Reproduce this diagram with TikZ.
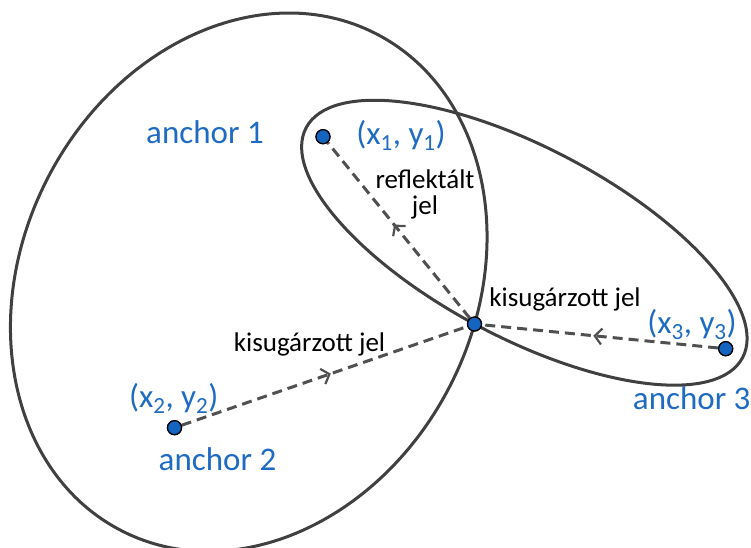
\documentclass[tikz,border=0pt]{standalone}
\usepackage{fontspec}
\setmainfont{Carlito}
\usetikzlibrary{arrows.meta,decorations.markings}
\definecolor{labelblue}{RGB}{31,107,196}
\definecolor{dotblue}{RGB}{21,101,192}
\definecolor{curvegray}{RGB}{64,64,64}
\definecolor{signalgray}{RGB}{80,80,80}
\tikzset{
  locus/.style={draw=curvegray, line width=3pt},
  station/.style={circle, draw=black, fill=dotblue, line width=1.2pt,
    minimum size=14pt, inner sep=0pt},
  signal/.style={draw=signalgray, line width=3pt, dash pattern=on 10pt off 6pt,
    postaction={decorate},
    decoration={markings, mark=at position #1 with
      {\arrow{Straight Barb[length=7pt,width=16pt,line width=2.2pt]}}}},
  bluetext/.style={text=labelblue, font=\fontsize{33}{38}\selectfont,
    inner sep=0pt, anchor=base},
  blacktext/.style={text=black, font=\fontsize{27}{26}\selectfont,
    inner sep=0pt, anchor=base},
}
\begin{document}
\begin{tikzpicture}[x=1pt, y=-1pt]
  \useasboundingbox (0,0) rectangle (751,547);

  % confocal loci: anchor 1 & 2, anchor 1 & 3
  \draw[locus, rotate around={62.96:(248.75,282.2)}]
    (248.75,282.2) ellipse [x radius=279.2pt, y radius=226.4pt];
  \draw[locus, rotate around={-27.76:(524.35,242.7)}]
    (524.35,242.7) ellipse [x radius=246.65pt, y radius=95.2pt];

  % stations
  \node[station] (a1) at (323,136.7) {};
  \node[station] (a2) at (174.5,427.7) {};
  \node[station] (a3) at (725.7,348.7) {};
  \node[station] (p)  at (474.5,324) {};

  % signal paths
  \draw[signal=0.533] (p) -- (a1);
  \draw[signal=0.522] (a2) -- (p);
  \draw[signal=0.529] (a3) -- (p);

  % redraw the stations on top of the paths
  \node[station] at (a1) {};
  \node[station] at (a2) {};
  \node[station] at (a3) {};
  \node[station] at (p) {};

  % labels
  \node[bluetext] (l1) at (205,143.5) {anchor 1};
  \node[bluetext] (c1) at (401,144.3) {(x\textsubscript{1}, y\textsubscript{1})};
  \node[bluetext] (l2) at (217.5,470) {anchor 2};
  \node[bluetext] (c2) at (173.7,407.3) {(x\textsubscript{2}, y\textsubscript{2})};
  \node[bluetext] (l3) at (691.7,409) {anchor 3};
  \node[bluetext] (c3) at (692,333) {(x\textsubscript{3}, y\textsubscript{3})};

  \node[blacktext, align=center] (refl) at (425,214) {reflektált\\jel};
  \node[blacktext] (tx2) at (309.5,351) {kisugárzott jel};
  \node[blacktext] (tx3) at (565,306.5) {kisugárzott jel};
\end{tikzpicture}
\end{document}
